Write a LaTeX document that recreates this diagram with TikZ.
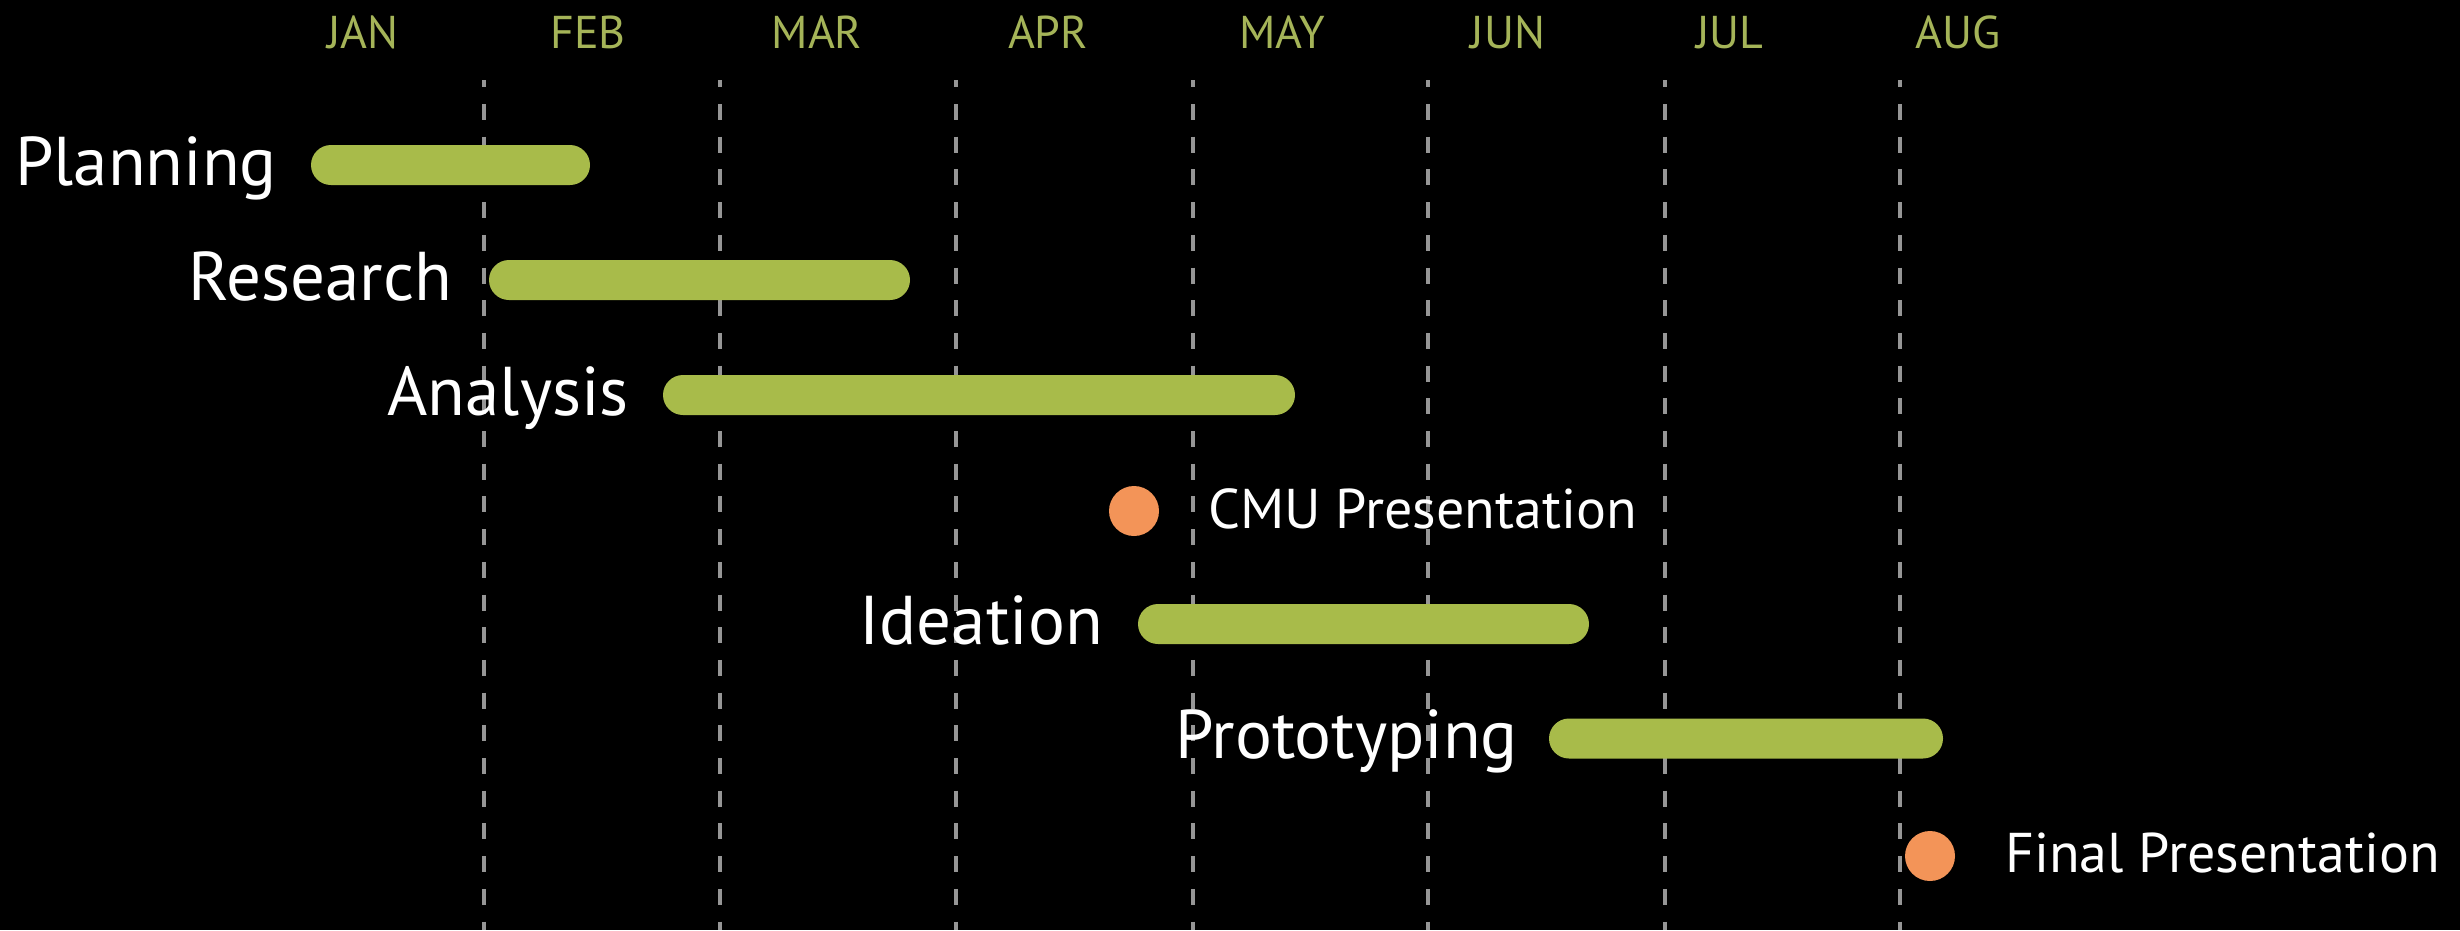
\documentclass[tikz,border=0pt]{standalone}
\usepackage{fontspec}
\setmainfont{PT Sans}
\definecolor{bargreen}{RGB}{168,187,74}
\definecolor{monthgreen}{RGB}{165,180,88}
\definecolor{milestone}{RGB}{243,148,88}
\definecolor{gridgray}{RGB}{150,150,150}
\tikzset{
  bar/.style={fill=bargreen, draw=none, rounded corners=20pt, minimum height=40pt, inner sep=0pt},
  task/.style={text=white, font=\fontsize{69}{72}\selectfont, anchor=base east, inner sep=0pt},
  month/.style={text=monthgreen, font=\fontsize{46}{50}\selectfont, anchor=base, inner sep=0pt},
  mile/.style={circle, fill=milestone, draw=none, minimum size=50pt, inner sep=0pt},
  milelabel/.style={text=white, font=\fontsize{56}{60}\selectfont, anchor=base west, inner sep=0pt},
  grid/.style={draw=gridgray, line width=3.5pt, dash pattern=on 16pt off 16.7pt, dash phase=8.7pt}
}
\begin{document}
\begin{tikzpicture}[x=1pt,y=-1pt]
\fill[black] (0,0) rectangle (2460,930);
\useasboundingbox (0,0) rectangle (2460,930);
% grid lines
\foreach \gx in {484,720,956,1193,1428,1665,1900}{
  \draw[grid] (\gx,80) -- (\gx,930);
}
% months
\node[month] (jan) at (363,48) {JAN};
\node[month] (feb) at (588,48) {FEB};
\node[month] (mar) at (817,48) {MAR};
\node[month] (apr) at (1048,48) {APR};
\node[month] (may) at (1282,48) {MAY};
\node[month] (jun) at (1508,48) {JUN};
\node[month] (jul) at (1730,48) {JUL};
\node[month] (aug) at (1958,48) {AUG};
% bars
\node[bar, minimum width=279pt] (planning) at (450.5,165) {};
\node[bar, minimum width=421pt] (research) at (699.5,280) {};
\node[bar, minimum width=632pt] (analysis) at (979,395) {};
\node[bar, minimum width=451pt] (ideation) at (1363.5,624) {};
\node[bar, minimum width=394pt] (prototyping) at (1746,738.5) {};
% task labels
\node[task] (planningL) at (277,185) {Planning};
\node[task] (researchL) at (452,300) {Research};
\node[task] (analysisL) at (629,415) {Analysis};
\node[task] (ideationL) at (1103,644) {Ideation};
\node[task] (prototypingL) at (1518,758) {Prototyping};
% milestones
\node[mile] (cmu) at (1134,511) {};
\node[milelabel] (cmuL) at (1208,528) {CMU Presentation};
\node[mile] (final) at (1930,856) {};
\node[milelabel] (finalL) at (2005,872) {Final Presentation};
\end{tikzpicture}
\end{document}
